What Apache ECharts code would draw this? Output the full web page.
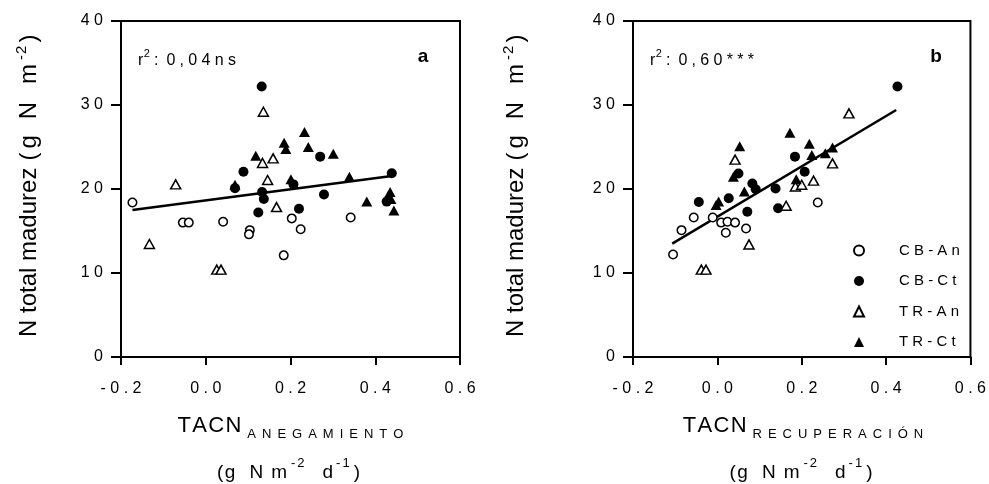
<!DOCTYPE html>
<html>
<head>
<meta charset="utf-8">
<script src="https://cdn.jsdelivr.net/npm/echarts@6/dist/echarts.min.js"></script>
<style>
  html, body { margin: 0; padding: 0; background: #fff; }
  #chart { width: 989px; height: 484px; }
</style>
</head>
<body>
<div id="chart"></div>
<script>
// ---- data ---------------------------------------------------------------
const groupNames = ['CB-An', 'CB-Ct', 'TR-An', 'TR-Ct'];

// Panel a: TACN during waterlogging vs. total N at maturity
const aCBAn = [[-0.173, 18.4], [-0.054, 16.0], [-0.040, 16.0], [0.041, 16.1], [0.104, 15.1],
               [0.102, 14.6], [0.203, 16.5], [0.224, 15.2], [0.184, 12.1], [0.342, 16.6]];
const aCBCt = [[0.132, 32.2], [0.270, 23.85], [0.089, 22.05], [0.207, 20.55], [0.439, 21.87],
               [0.069, 20.1], [0.133, 19.65], [0.137, 18.8], [0.279, 19.35], [0.427, 18.5],
               [0.220, 17.65], [0.124, 17.2]];
const aTRAn = [[0.136, 29.2], [0.159, 23.65], [0.134, 23.1], [0.146, 21.07], [-0.071, 20.55],
               [0.167, 17.85], [-0.133, 13.45], [0.026, 10.4], [0.036, 10.4]];
const aTRCt = [[0.233, 26.8], [0.185, 25.5], [0.189, 24.75], [0.242, 25.0], [0.301, 24.2],
               [0.118, 23.95], [0.201, 21.15], [0.339, 21.45], [0.069, 20.5], [0.435, 19.65],
               [0.437, 18.8], [0.380, 18.5], [0.444, 17.45]];
const aFit = [[-0.173, 17.5], [0.439, 21.55]];

// Panel b: TACN during recovery vs. total N at maturity
const bCBAn = [[-0.105, 12.2], [-0.085, 15.1], [-0.056, 16.6], [-0.011, 16.6], [0.009, 16.0],
               [0.024, 16.1], [0.042, 16.0], [0.020, 14.8], [0.068, 15.3], [0.238, 18.4]];
const bCBCt = [[0.427, 32.2], [0.184, 23.85], [0.207, 22.06], [0.050, 21.85], [0.083, 20.65],
               [0.138, 20.07], [0.091, 19.96], [0.027, 18.9], [-0.044, 18.45], [0.071, 17.3],
               [0.144, 17.7]];
const bTRAn = [[0.312, 29.0], [0.042, 23.5], [0.273, 23.05], [0.228, 21.0], [0.185, 20.3],
               [0.200, 20.5], [0.163, 18.0], [0.075, 13.4], [-0.038, 10.4], [-0.027, 10.4]];
const bTRCt = [[0.172, 26.7], [0.053, 25.1], [0.218, 25.4], [0.273, 24.95], [0.256, 24.25],
               [0.224, 24.05], [0.038, 21.45], [0.187, 21.15], [0.064, 19.7], [0.003, 18.5],
               [-0.003, 18.1]];
const bFit = [[-0.107, 13.5], [0.424, 29.4]];

const xTicks = [-0.2, 0, 0.2, 0.4, 0.6];
const yTicks = [0, 10, 20, 30, 40];
const r2Values = ['0,04ns', '0,60***'];
const panelLetters = ['a', 'b'];
const xSubscripts = ['ANEGAMIENTO', 'RECUPERACIÓN'];

// ---- styling helpers ----------------------------------------------------
const FONT = '"Liberation Sans", Arial, Helvetica, sans-serif';
const MID = 0.33; // canvas "middle" baseline sits ~0.33em above the alphabetic baseline

const markerStyle = {
  'CB-An': { symbol: 'circle',   size: 8.5,     fill: '#fff', bw: 1.5 },
  'CB-Ct': { symbol: 'circle',   size: 10,      fill: '#000', bw: 0 },
  'TR-An': { symbol: 'triangle', size: [10, 9], fill: '#fff', bw: 1.5 },
  'TR-Ct': { symbol: 'triangle', size: [11, 10], fill: '#000', bw: 0 }
};

const spaced = s => String(s).split('').join(' ');

const mctx = document.createElement('canvas').getContext('2d');
function textWidth(t, size, weight) {
  mctx.font = (weight || 'normal') + ' ' + size + 'px ' + FONT;
  return mctx.measureText(t).width;
}
function letters(str, size, spacing, rise) {
  return str.split('').map(ch => ({ t: ch, size, gap: spacing, rise: rise || 0 }));
}
// Lays out a run of text pieces (with sub/superscripts) along one baseline.
function textRun(pieces, ax, ay, mode, rotation) {
  let total = 0;
  pieces.forEach((p, i) => {
    p.w = textWidth(p.t, p.size, p.weight);
    total += p.w + (i < pieces.length - 1 ? (p.gap || 0) : 0);
  });
  let cx = mode === 'center' ? -total / 2 : 0;
  const children = pieces.map(p => {
    const el = {
      type: 'text', x: cx, y: -(p.rise || 0) - MID * p.size, silent: true,
      style: {
        text: p.t, fontSize: p.size, fontFamily: FONT, fontWeight: p.weight || 'normal',
        fill: '#000', align: 'left', verticalAlign: 'middle',
        textAlign: 'left', textVerticalAlign: 'middle'
      }
    };
    cx += p.w + (p.gap || 0);
    return el;
  });
  return { type: 'group', x: ax, y: ay, rotation: rotation || 0, silent: true, children };
}

// ---- layout -------------------------------------------------------------
const grids = [
  { left: 121, top: 21, width: 339, height: 336 },
  { left: 633, top: 21, width: 340, height: 336 }
];

function xFmt(v) {
  const s = (Math.abs(v) < 1e-9 ? 0 : v).toFixed(1);
  return spaced(s);
}

function makeAxes(kind) {
  return grids.map((g, i) => {
    const isX = kind === 'x';
    const ticks = isX ? xTicks : yTicks;
    return {
      type: 'value', gridIndex: i,
      min: ticks[0], max: ticks[ticks.length - 1], interval: ticks[1] - ticks[0],
      axisLine: { show: true, onZero: false, lineStyle: { color: '#000', width: 2 } },
      axisTick: { show: true, length: isX ? 8 : 10, lineStyle: { color: '#000', width: 2 } },
      splitLine: { show: false },
      axisLabel: {
        margin: isX ? 24 : 18, fontSize: 16, lineHeight: 16, fontFamily: FONT, color: '#000',
        formatter: isX ? xFmt : (v => spaced(v))
      }
    };
  });
}

function scatter(name, data, idx) {
  const st = markerStyle[name];
  return {
    type: 'scatter', name, data, xAxisIndex: idx, yAxisIndex: idx,
    symbol: st.symbol, symbolSize: st.size, z: 3,
    itemStyle: { color: st.fill, borderColor: '#000', borderWidth: st.bw, opacity: 1 },
    emphasis: { disabled: true }
  };
}
function fitLine(data, idx) {
  return {
    type: 'line', data, xAxisIndex: idx, yAxisIndex: idx, symbol: 'none', showSymbol: false,
    lineStyle: { color: '#000', width: 2.5 }, z: 2, silent: true, emphasis: { disabled: true }
  };
}

const panels = [
  [aCBAn, aCBCt, aTRAn, aTRCt],
  [bCBAn, bCBCt, bTRAn, bTRCt]
];
const series = [];
panels.forEach((sets, idx) => {
  series.push(fitLine(idx === 0 ? aFit : bFit, idx));
  sets.forEach((d, k) => series.push(scatter(groupNames[k], d, idx)));
});

// ---- titles and annotations -------------------------------------------
const graphics = [];
grids.forEach((g, i) => {
  const cx = g.left + g.width / 2;
  // x-axis title, line 1: TACN with a spaced subscript
  graphics.push(textRun(
    letters('TACN', 22, 1.3).map((p, k, arr) => (k === arr.length - 1 ? Object.assign(p, { gap: 6 }) : p))
      .concat(letters(xSubscripts[i], 13, 6, -6)),
    cx, 433, 'center'));
  // x-axis title, line 2: units
  graphics.push(textRun([
    { t: '(', size: 19, gap: 1.5 }, { t: 'g', size: 19, gap: 14 }, { t: 'N', size: 19, gap: 8 },
    { t: 'm', size: 19, gap: 4 }, { t: '-', size: 13, rise: 11, gap: 2 }, { t: '2', size: 13, rise: 11, gap: 18 },
    { t: 'd', size: 19, gap: 3 }, { t: '-', size: 13, rise: 11, gap: 2 }, { t: '1', size: 13, rise: 11, gap: 4 },
    { t: ')', size: 19 }
  ], cx - 2, 479, 'center'));
  // y-axis title, rotated
  graphics.push(textRun([
    { t: 'N total madurez', size: 24, gap: 7 }, { t: '(', size: 24, gap: 4 }, { t: 'g', size: 24, gap: 16 },
    { t: 'N', size: 24, gap: 18 }, { t: 'm', size: 24, gap: 4 }, { t: '-', size: 15, rise: 10, gap: 1 },
    { t: '2', size: 15, rise: 10, gap: 3 }, { t: ')', size: 24 }
  ], i === 0 ? 37 : 524, 337, 'start', Math.PI / 2));
  // coefficient of determination
  const r2Pieces = letters(':' + r2Values[i], 16, 4.3);
  r2Pieces[0].gap = 8;
  graphics.push(textRun(
    [{ t: 'r', size: 16, gap: 0.5 }, { t: '2', size: 11, rise: 8, gap: 4 }].concat(r2Pieces),
    g.left + 17, 66, 'start'));
  // panel letter
  graphics.push(textRun([{ t: panelLetters[i], size: 19, weight: 'bold' }], g.left + g.width - 37, 63, 'center'));
});

const chart = echarts.init(document.getElementById('chart'), null, { renderer: 'canvas' });
chart.setOption({
  animation: false,
  backgroundColor: '#fff',
  grid: grids.map(g => Object.assign({ show: true, borderColor: '#000', borderWidth: 2, backgroundColor: 'transparent' }, g)),
  xAxis: makeAxes('x'),
  yAxis: makeAxes('y'),
  legend: {
    data: groupNames, orient: 'vertical', left: 848, top: 238,
    itemWidth: 10, itemHeight: 10, itemGap: 15.5, selectedMode: false,
    formatter: n => spaced(n),
    textStyle: { fontSize: 15, lineHeight: 15, fontFamily: FONT, color: '#000', padding: [0, 0, 0, 30] }
  },
  series,
  graphic: { elements: graphics }
});
</script>
</body>
</html>
